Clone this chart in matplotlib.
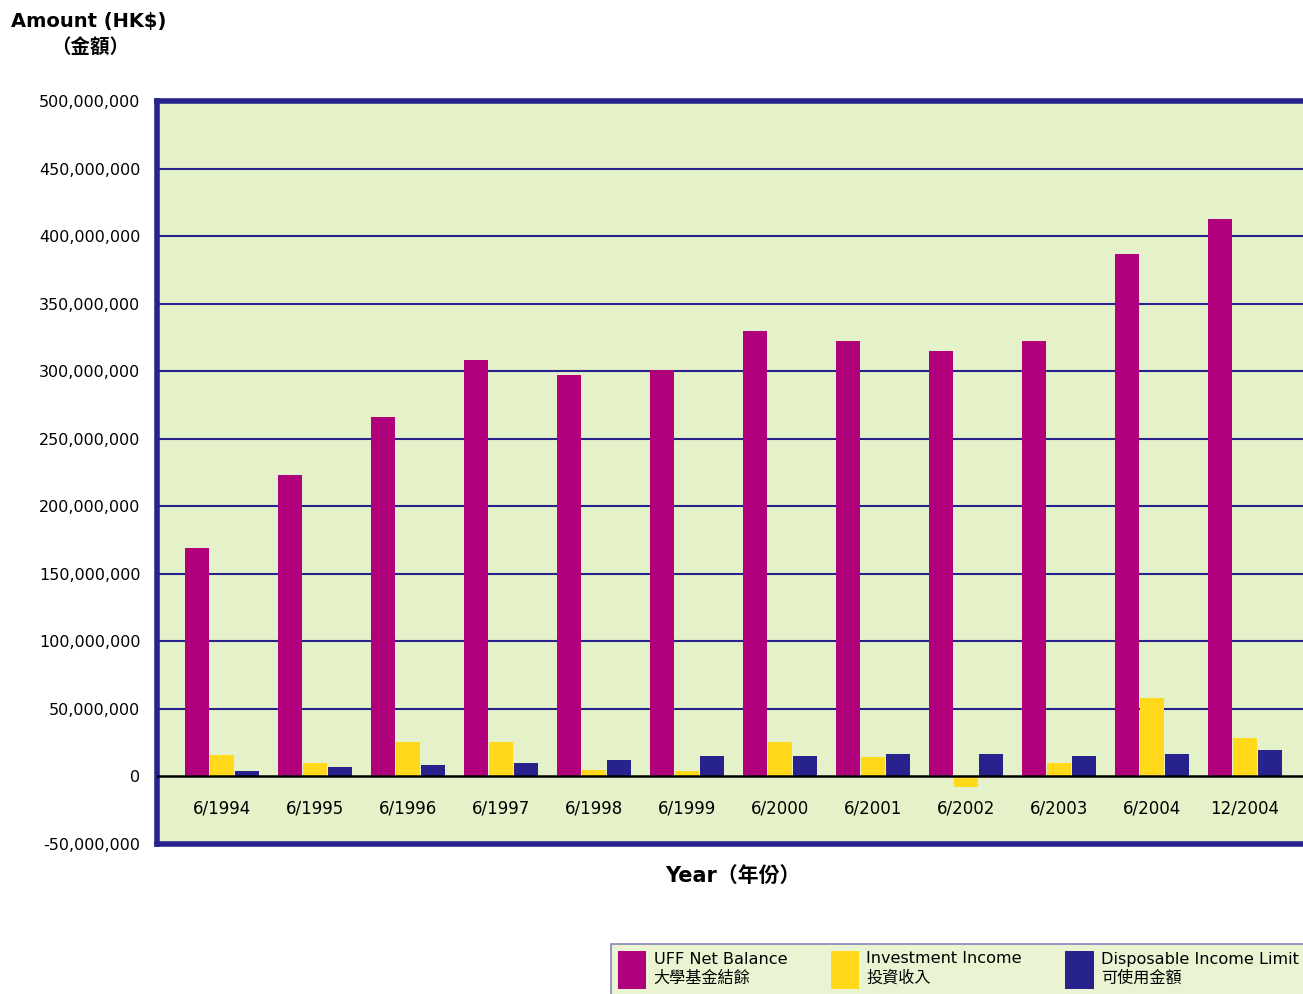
import numpy as np
import matplotlib
matplotlib.use('agg')
import matplotlib.pyplot as plt
from matplotlib.ticker import FuncFormatter

plt.rcParams['font.family'] = ['DejaVu Sans', 'Noto Sans CJK TC']

# data (HK$)
years = ['6/1994', '6/1995', '6/1996', '6/1997', '6/1998', '6/1999',
         '6/2000', '6/2001', '6/2002', '6/2003', '6/2004', '12/2004']
uff_balance = [169e6, 223e6, 266e6, 308e6, 297e6, 301e6,
               330e6, 322e6, 315e6, 322e6, 387e6, 413e6]
invest_income = [16e6, 10e6, 25.4e6, 25.4e6, 4.8e6, 4e6,
                 25.4e6, 14.6e6, -8e6, 9.6e6, 58e6, 28.8e6]
disposable = [4.3e6, 7e6, 8.5e6, 10e6, 12.4e6, 15.3e6,
              15.3e6, 16.9e6, 16.8e6, 15.3e6, 16.8e6, 19.7e6]
yticks = np.arange(-50e6, 500e6 + 1, 50e6)

magenta = '#b0007c'
yellow = '#ffd91a'
navy = '#28228e'
bg = '#e5f2c9'

W, H = 1303, 994
fig = plt.figure(figsize=(W / 100, H / 100), dpi=100)
ax = fig.add_axes([157 / W, 1 - 844 / H, (1312 - 157) / W, (844 - 101) / H])
ax.set_facecolor(bg)

x = np.arange(len(years))
bw = 0.258
step = 0.269
b1 = ax.bar(x - step, uff_balance, bw, color=magenta, zorder=3)
b2 = ax.bar(x, invest_income, bw, color=yellow, zorder=3)
b3 = ax.bar(x + step, disposable, bw, color=navy, zorder=3)

ax.set_xlim(-0.70, len(years) - 1 + 0.72)
ax.set_ylim(-50e6, 500e6)
ax.set_yticks(yticks)
ax.yaxis.set_major_formatter(FuncFormatter(lambda v, p: '{:,.0f}'.format(v)))
ax.tick_params(axis='y', length=0, pad=12, labelsize=11.5)
ax.set_xticks([])

for yv in yticks[1:-1]:
    if yv == 0:
        ax.axhline(0, color='black', lw=1.8, zorder=4)
    else:
        ax.axhline(yv, color=navy, lw=1.5, zorder=1)

for s in ['top', 'left', 'bottom']:
    ax.spines[s].set_color(navy)
    ax.spines[s].set_linewidth(4)
ax.spines['right'].set_visible(False)

for i, lab in enumerate(years):
    ax.text(i, -24e6, lab, ha='center', va='center', fontsize=12)

fig.text(11 / W, 1 - 22 / H, 'Amount (HK$)', fontsize=14, fontweight='bold',
         ha='left', va='center')
fig.text(90 / W, 1 - 47 / H, '（金額）', fontsize=14, fontweight='bold',
         ha='center', va='center')
fig.text(733 / W, 1 - 876 / H, 'Year（年份）', fontsize=15, fontweight='bold',
         ha='center', va='center')

labels = ['UFF Net Balance\n大學基金結餘', 'Investment Income\n投資收入',
          'Disposable Income Limit\n可使用金額']
leg = fig.legend([b1, b2, b3], labels, ncol=3, loc='upper left',
                 bbox_to_anchor=(611 / W, 1 - 944 / H), fontsize=11.6,
                 handlelength=1.75, handleheight=3.2, handletextpad=0.45,
                 columnspacing=2.7, borderpad=0.45, fancybox=False,
                 frameon=True, borderaxespad=0)
leg.get_frame().set_facecolor(bg)
leg.get_frame().set_edgecolor('#6a6ab0')
leg.get_frame().set_linewidth(1.2)
for t in leg.get_texts():
    t.set_linespacing(1.3)

fig.savefig('out.png', dpi=100, facecolor='white')
